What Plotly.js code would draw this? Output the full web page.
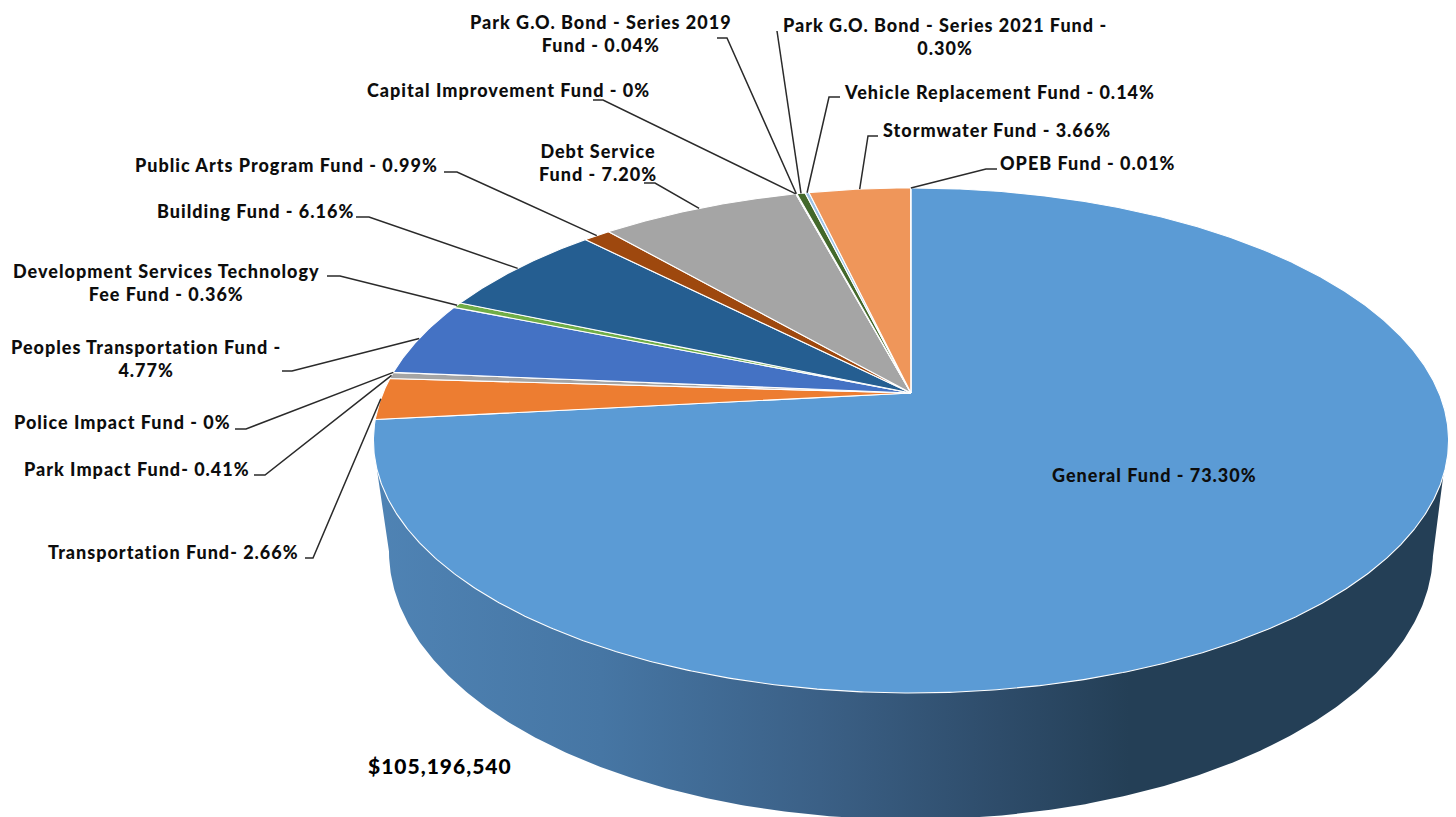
<!DOCTYPE html>
<html>
<head>
<meta charset="utf-8">
<script src="https://cdn.plot.ly/plotly-3.0.1.min.js"></script>
<style>html,body{margin:0;padding:0;background:#fff}#chart{width:1456px;height:817px}
.annotation-text{letter-spacing:1px}</style>
</head>
<body>
<div id="chart"></div>
<script>
// ---- data ----
const funds = ["General Fund","Transportation Fund","Park Impact Fund","Police Impact Fund","Peoples Transportation Fund",
  "Development Services Technology Fee Fund","Building Fund","Public Arts Program Fund","Debt Service Fund","Capital Improvement Fund",
  "Park G.O. Bond - Series 2019 Fund","Park G.O. Bond - Series 2021 Fund","Vehicle Replacement Fund","Stormwater Fund","OPEB Fund"];
const shares = [73.30,2.66,0.41,0,4.77,0.36,6.16,0.99,7.20,0,0.04,0.30,0.14,3.66,0.01];
const labels = ["General Fund - 73.30%","Transportation Fund- 2.66%","Park Impact Fund- 0.41%","Police Impact Fund - 0%",
  "Peoples Transportation Fund -<br>4.77%","Development Services Technology<br>Fee Fund - 0.36%","Building Fund - 6.16%",
  "Public Arts Program Fund - 0.99%","Debt Service<br>Fund - 7.20%","Capital Improvement Fund - 0%",
  "Park G.O. Bond - Series 2019<br>Fund - 0.04%","Park G.O. Bond - Series 2021 Fund -<br>0.30%","Vehicle Replacement Fund - 0.14%",
  "Stormwater Fund - 3.66%","OPEB Fund - 0.01%"];
const totalLabel = "$105,196,540";

// ---- styling and layout ----
const colors = ["#5B9BD5","#ED7D31","#A5A5A5","#FFC000","#4472C4","#70AD47","#255E91","#9E480E","#A5A5A5","#997300","#264478","#43682B","#9DC3E6","#EF965A","#B7B7B7"];
const labelPos = [[1154.5,475],[173,552],[137,469],[122,422],[146,358],[166,282],[255,211],[286,165],[598,162],[508,90],[601,33],[945,36],[999.5,92],[997,130],[1087.5,163]];
const leaderPath = [null,[[305,558],[313,558]],[[254,475],[265,475]],[[235,429],[246,429]],[[282,371],[292,371]],[[327,276],[340,276]],
  [[356,217],[369,217]],[[444,172],[457,172]],[[644,183],[655,183]],[[593,100],[603,100]],[[717,38],[727,38]],[[777,31]],[[840,97],[829,97]],[[878,136],[868,136]],[[997,169],[986,169]]];
const apex = {x:911,y:393}, A = 528, B = 243.6, K = 0.188;
const base = {x:911,y:551.5,a:522,b:268};
const FONT = "Lato, 'Open Sans', sans-serif";

// Projects a share position (percent clockwise from 12 o'clock) on the tilted disc's rim
function rim(pct){
  const t = pct/100*2*Math.PI, u = Math.sin(t), v = -Math.cos(t), d = 1 - K*v;
  return [apex.x + A*u/d, apex.y + B*v/d];
}

const traces = [];
// side wall
const wx=[],wy=[];
wx.push(1444); wy.push(470);
for(let i=0;i<=360;i++){const t=i/360*Math.PI; wx.push(base.x+base.a*Math.cos(t)); wy.push(base.y+base.b*Math.sin(t));}
wx.push(377); wy.push(470);
traces.push({type:'scatter',mode:'lines',x:wx,y:wy,fill:'toself',line:{width:0,color:'rgba(0,0,0,0)'},
  fillcolor:'#3B6086',
  fillgradient:{type:'horizontal',colorscale:[[0,'#4F83B4'],[0.21,'#4676A4'],[0.415,'#3B6086'],[0.583,'#2E4C6A'],[0.705,'#243F56'],[1,'#243F56']]},
  hoverinfo:'skip',showlegend:false});

// top surface slices
let cum = 0; const mids = [];
shares.forEach((s,i)=>{
  const xs=[apex.x],ys=[apex.y], n=Math.max(2,Math.ceil(s*12));
  for(let k=0;k<=n;k++){const p=rim(cum+s*k/n); xs.push(p[0]); ys.push(p[1]);}
  xs.push(apex.x); ys.push(apex.y);
  traces.push({type:'scatter',mode:'lines',x:xs,y:ys,fill:'toself',fillcolor:colors[i],name:funds[i],
    line:{color:'#FFFFFF',width:1.1},hoverinfo:'name',showlegend:false});
  mids.push(rim(cum+s/2));
  cum += s;
});

// leader lines
const shapes = [];
leaderPath.forEach((pts,i)=>{
  if(!pts) return;
  const all = pts.concat([mids[i]]);
  shapes.push({type:'path',xref:'x',yref:'y',path:'M'+all.map(p=>p[0]+','+p[1]).join('L'),line:{color:'#2a2a2a',width:1.5},layer:'above'});
});

const annotations = labels.map((t,i)=>({xref:'x',yref:'y',x:labelPos[i][0],y:labelPos[i][1],text:t,showarrow:false,
  xanchor:'center',yanchor:'middle',align:'center',font:{family:FONT,size:18,color:'#0d0d0d',weight:900}}));
annotations.push({xref:'x',yref:'y',x:439.5,y:765,text:totalLabel,showarrow:false,xanchor:'center',yanchor:'middle',
  font:{family:FONT,size:21,color:'#000',weight:900}});

Plotly.newPlot('chart',traces,{
  width:1456,height:817,margin:{l:0,r:0,t:0,b:0},paper_bgcolor:'#fff',plot_bgcolor:'#fff',showlegend:false,
  xaxis:{range:[0,1456],visible:false,fixedrange:true},
  yaxis:{range:[817,0],visible:false,fixedrange:true},
  shapes,annotations
},{displayModeBar:false,staticPlot:true});
</script>
</body>
</html>
